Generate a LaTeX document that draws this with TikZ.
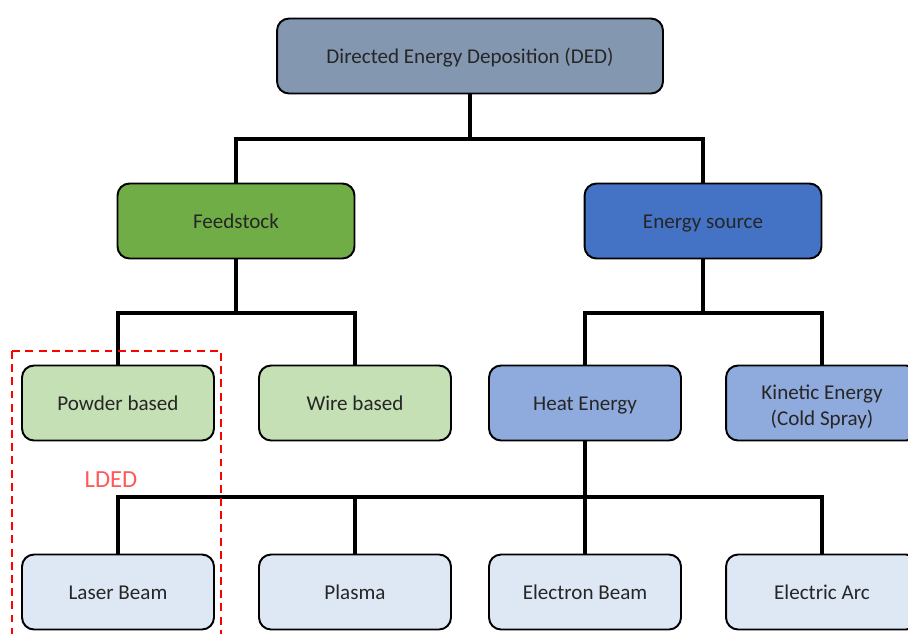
\documentclass[tikz,border=0pt]{standalone}
\usepackage{fontspec}
\setmainfont{Carlito}
\definecolor{dedgray}{HTML}{8497B0}
\definecolor{feedgreen}{HTML}{70AD47}
\definecolor{srcblue}{HTML}{4472C4}
\definecolor{lightgreen}{HTML}{C5E0B4}
\definecolor{midblue}{HTML}{8FAADC}
\definecolor{paleblue}{HTML}{DEE8F5}
\definecolor{txtgray}{HTML}{262626}
\tikzset{
  box/.style={draw=black,line width=1.1pt,rounded corners=0.24cm,align=center,
    text=txtgray,font=\fontsize{12}{14.5}\selectfont,minimum width=3.84cm,minimum height=1.5cm,
    execute at begin node={\rule[-4.3pt]{0pt}{16.6pt}}},
  link/.style={line width=2.2pt}
}
\begin{document}
\begin{tikzpicture}[x=0.02cm,y=-0.02cm]
    \useasboundingbox (0,0) rectangle (908,633);
    \clip (0,0) rectangle (908,633);
    % top level
    \node[box,fill=dedgray,minimum width=7.72cm] (ded) at (470,56) {Directed Energy Deposition (DED)};
    \node[box,fill=feedgreen,minimum width=4.74cm] (feed) at (236,221) {Feedstock};
    \node[box,fill=srcblue,minimum width=4.74cm] (esrc) at (703,221) {Energy source};
    % second level
    \node[box,fill=lightgreen] (powder) at (118,403) {Powder based};
    \node[box,fill=lightgreen] (wire) at (355,403) {Wire based};
    \node[box,fill=midblue] (heat) at (585,403) {Heat Energy};
    \node[box,fill=midblue] (kinetic) at (822,403) {\rule[-4.3pt]{0pt}{19.5pt}Kinetic Energy\\(Cold Spray)};
    % heat sources
    \node[box,fill=paleblue] (laser) at (118,592) {Laser Beam};
    \node[box,fill=paleblue] (plasma) at (355,592) {Plasma};
    \node[box,fill=paleblue] (ebeam) at (585,592) {Electron Beam};
    \node[box,fill=paleblue] (arc) at (822,592) {Electric Arc};
    % branch points
    \coordinate (b1) at (470,139);
    \coordinate (b2) at (236,313);
    \coordinate (b3) at (703,313);
    \coordinate (b4) at (585,497);
    \draw[link] (ded) -- (b1);
    \draw[link] (feed.north) |- (b1) -| (esrc.north);
    \draw[link] (feed) -- (b2);
    \draw[link] (powder.north) |- (b2) -| (wire.north);
    \draw[link] (esrc) -- (b3);
    \draw[link] (heat.north) |- (b3) -| (kinetic.north);
    \draw[link] (heat) -- (b4);
    \draw[link] (laser.north) |- (b4) -| (arc.north);
    \foreach \n in {plasma,ebeam}
    \draw[link] (\n.north) -- (\n.north |- b4);
    % LDED frame
    \draw[red,line width=1pt,dash pattern=on 4.5pt off 3pt] (12,351) rectangle (221,660);
    \node[text=red!65!white,font=\fontsize{14}{16}\selectfont] (lded) at (111,480) {LDED};
\end{tikzpicture}
\end{document}
